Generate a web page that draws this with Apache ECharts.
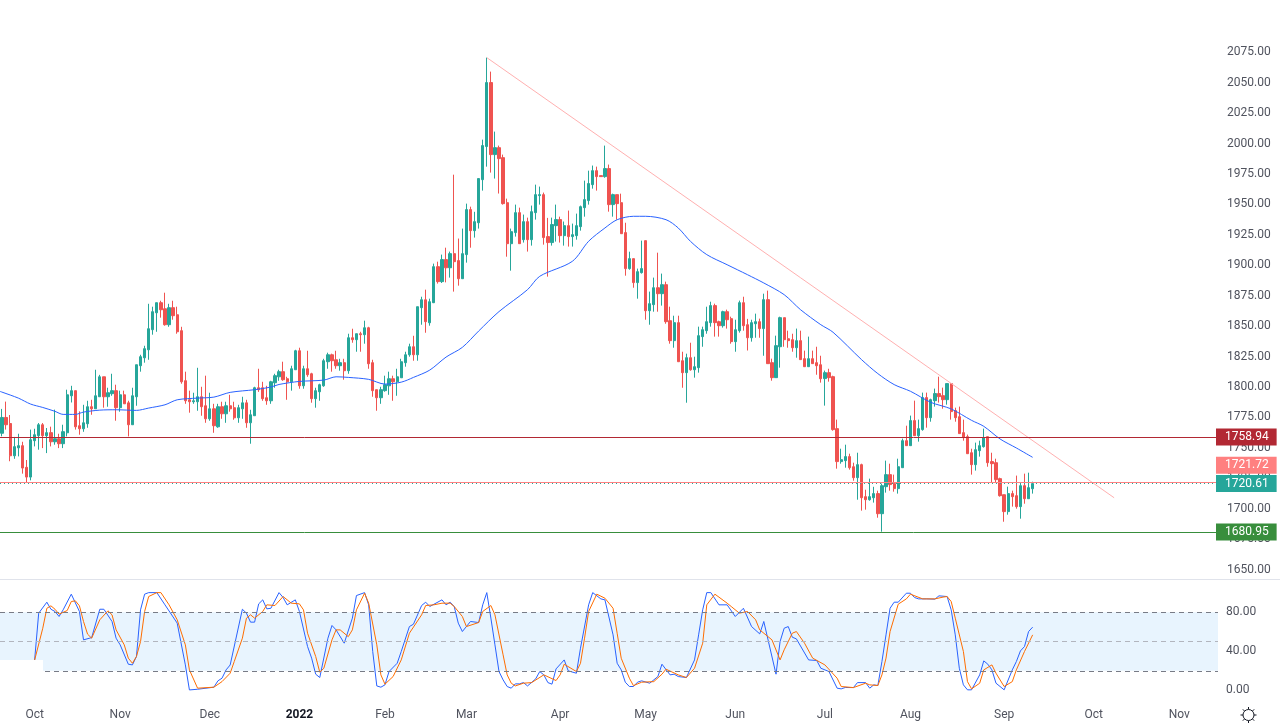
<!DOCTYPE html>
<html>
<head>
<meta charset="utf-8">
<title>Gold daily chart</title>
<script src="https://cdn.jsdelivr.net/npm/echarts@6/dist/echarts.min.js"></script>
<style>
  html, body { margin: 0; padding: 0; background: #fff; }
  #chart { width: 1280px; height: 728px; }
</style>
</head>
<body>
<div id="chart"></div>
<script>
const slotCount = 299;
const tickIndex = [8, 29, 51, 73, 94, 114, 137, 158, 180, 202, 223, 246, 268, 289];
const tickLabels = ['Oct', 'Nov', 'Dec', '2022', 'Feb', 'Mar', 'Apr', 'May', 'Jun', 'Jul', 'Aug', 'Sep', 'Oct', 'Nov'];

const priceTicks = [1650, 1675, 1700, 1725, 1750, 1775, 1800, 1825, 1850, 1875, 1900, 1925, 1950, 1975, 2000, 2025, 2050, 2075];
const stochTicks = [0, 40, 80];

const opens = [
  1762,1775,1770,1743.5,1750,1751.8,1734,1726,1755.9,1760,
  1769,1760,1762.5,1755,1757.5,1753.4,1762.4,1792.8,1797,1768.2,
  1765.7,1769.8,1783.8,1782.1,1792,1808.4,1792,1794.5,1797,1783,
  1793.6,1787,1769,1792,1817.5,1824,1830.6,1847.1,1861,1869.3,
  1864.3,1851.2,1865.2,1859.4,1846.3,1805.2,1789.5,1787.9,1787.9,1792,
  1784.6,1773.9,1782.1,1767.3,1783.8,1778,1784.6,1783,1774.7,1782.1,
  1787,1770.6,1776.4,1799.4,1799.4,1791.2,1788.7,1803.5,1808.4,1812.6,
  1806.8,1804.3,1814.2,1829.8,1801,1815,1810.9,1790.4,1796.1,1801,
  1820.8,1826.5,1822.4,1817.5,1820,1813.4,1840.5,1838.9,1843.8,1843,
  1848.7,1820,1797.8,1791.2,1797,1801,1806.8,1804.3,1807.6,1820,
  1826.5,1833.1,1826.5,1865.2,1871.7,1852.8,1869.3,1898.9,1886.6,1904.7,
  1898,1909.6,1903.9,1889,1908.8,1945.8,1928.5,1935,1970.4,1997.6,
  2050.2,1991,1996.7,1988.5,1951.5,1917.8,1926.9,1943.3,1921.1,1935.9,
  1921.1,1943.3,1957.3,1958.1,1923.6,1918.7,1932.6,1937.6,1924.4,1932.6,
  1923.6,1924.4,1931.8,1947.4,1953.2,1966.3,1977.8,1973.7,1972.9,1979.5,
  1949.9,1958.1,1951.5,1926.9,1897.3,1905.5,1885.8,1894,1920.3,1862.7,
  1867.7,1881.6,1876.7,1884.1,1854.5,1838.1,1852.9,1821.6,1811.8,1824.1,
  1814.2,1815.9,1841.4,1846.3,1852.9,1866.9,1853.7,1850.4,1861.9,1856.2,
  1837.3,1846.3,1869.3,1851.2,1840.5,1852,1853.7,1848,1871.8,1820,
  1807.7,1833.1,1857,1839.7,1838.9,1832.3,1838.1,1823.3,1816.7,1823.3,
  1820,1818.3,1806.9,1811.8,1808.5,1765.8,1738.7,1739.5,1742.8,1734.5,
  1725.5,1736.2,1709.9,1707.4,1709,1712.4,1695.9,1718.1,1728,1720.6,
  1716.5,1733.7,1755.9,1751.8,1772.4,1760,1765,1791.3,1774.8,1788.8,
  1794.6,1792.9,1789.6,1802.8,1780.6,1775.6,1762.5,1759.2,1746,1736.2,
  1747.7,1751,1759.2,1738.7,1737.8,1724.7,1711.5,1697.6,1712.4,1710.7,
  1701.7,1718.9,1708.2,1716.4
];
const closes = [
  1775,1769,1743.5,1751,1751.8,1733.4,1726,1756.7,1760.8,1769,
  1760,1762.5,1755,1757.5,1753.4,1763.3,1793.6,1797,1767.3,1765.7,
  1770.6,1783.8,1782.1,1792.8,1808.4,1792,1795.3,1797,1783,1793.6,
  1786.2,1769,1792.8,1818.3,1824.9,1831.5,1847.9,1861.9,1869.3,1863.5,
  1851.2,1865.2,1858.6,1845.4,1804.3,1788.7,1787.9,1788.7,1792,1783.8,
  1773.9,1782.1,1768.2,1783.8,1778,1784.6,1782.1,1774.7,1783,1787,
  1770.6,1777.2,1799.4,1797.8,1790.4,1788.7,1804.3,1809.3,1812.6,1806,
  1804.3,1815,1829.8,1801,1815,1810.1,1790.4,1797,1801.9,1821.6,
  1826.5,1821.6,1817.5,1820,1813.4,1840.5,1838.9,1843.8,1843,1848.7,
  1819.1,1797,1791.2,1797.8,1801.9,1806.8,1804.3,1808.4,1820.8,1826.5,
  1833.1,1826.5,1866,1871.7,1853.7,1870.1,1898.9,1886.6,1904.7,1898,
  1909.6,1903,1889,1909.6,1945.8,1928.5,1935.9,1971.3,1998.4,2050.2,
  1991,1996.7,1987.7,1950.7,1917.8,1927.7,1943.3,1917.8,1935.9,1921.1,
  1944.1,1958.1,1958.1,1922.8,1918.7,1933.5,1937.6,1924.4,1932.6,1923.6,
  1925.2,1932.6,1948.2,1954,1967.2,1977.8,1972.9,1972.9,1979.5,1949.9,
  1958.1,1950.7,1926,1897.3,1905.5,1885.8,1894.8,1897.3,1862.7,1868.5,
  1881.6,1876.7,1884.1,1853.7,1838.1,1852.9,1820.8,1811.8,1824.1,1814.2,
  1816.7,1842.2,1847.1,1853.7,1866.9,1852.9,1850.4,1861.9,1855.3,1837.3,
  1847.1,1869.3,1850.4,1840.5,1852.9,1853.7,1848,1871.8,1819.2,1807.7,
  1834,1857,1838.9,1838.1,1832.3,1838.1,1822.5,1816.7,1823.3,1819.2,
  1817.5,1806.8,1811.8,1807.7,1765,1738.7,1740.3,1742.8,1733.7,1725.5,
  1736.2,1709,1707.4,1709.9,1712.4,1695.9,1718.9,1728,1719.8,1716.5,
  1734.5,1755.9,1751.8,1772.4,1760,1765.8,1791.3,1774.8,1789.6,1794.6,
  1792.1,1789.6,1802.8,1779.8,1774.8,1761.7,1758.4,1745.2,1736.2,1748.5,
  1751.8,1758.4,1737.8,1737,1723.9,1710.7,1697.6,1712.4,1709.9,1701.7,
  1718.9,1708.2,1717.3,1720.61
];
const lows = [
  1759.5,1765,1739,1741,1743,1728.8,1721.6,1723.3,1751.2,1748.5,
  1749.8,1745.7,1751.2,1752.6,1749.8,1749.8,1759.4,1787.3,1765,1760.8,
  1763.2,1766.5,1777.2,1782.1,1792,1783,1783.8,1792.8,1772.3,1779.7,
  1786.2,1759.4,1769,1784.6,1812.6,1820,1822.4,1843,1845.4,1857,
  1850.4,1849.5,1855.3,1843.8,1802.7,1786.2,1778.9,1786.2,1780.5,1776.4,
  1770.6,1772.3,1762.4,1766.5,1773.9,1770.6,1779.7,1773.1,1770.6,1773.9,
  1766.5,1753.4,1776.4,1796,1788.7,1785.4,1786.2,1799.4,1805.1,1805.1,
  1789.5,1797,1814.2,1798.6,1798.6,1808.4,1787.1,1783,1788.7,1800.2,
  1815,1812.6,1815,1813.4,1806,1810.9,1836.4,1829,1829,1835.6,
  1815,1792,1780.5,1786.2,1796.1,1793.6,1788.7,1792.8,1807.6,1816.7,
  1824.9,1821.6,1821.6,1851.2,1844.6,1850.4,1869,1885,1885.5,1886,
  1889.9,1878.4,1883.3,1889,1902.2,1914.5,1922.8,1930.2,1961.4,1981.1,
  1976.2,1971.3,1959,1949.9,1907.1,1895.6,1923.6,1917.8,1918.7,1911.3,
  1916.2,1937.6,1949.9,1917,1890.7,1916.2,1919.5,1918.7,1916.2,1915.4,
  1915.4,1921.1,1928.5,1940,1949.9,1963,1961.4,1972.9,1972,1944.1,
  1940,1937.6,1926,1891.5,1896.4,1881.6,1872.6,1893.2,1855.3,1851.2,
  1861.9,1861.9,1866.9,1852,1835.6,1832.3,1820.8,1799.4,1787.1,1813.4,
  1807.7,1811.8,1833.1,1843.8,1849.6,1841.4,1841.4,1848.8,1848,1835.6,
  1829,1844.7,1846.3,1830,1837.3,1840.5,1840.5,1825.7,1819.2,1805.2,
  1807.7,1815.9,1833.1,1832.3,1829,1824.1,1822.5,1816.7,1816.7,1819.2,
  1810.1,1803.6,1784.7,1804.4,1764.1,1732.9,1737,1733.7,1732.1,1723,
  1707.4,1698.4,1699.2,1706.6,1705,1692.6,1681.1,1713.2,1714.8,1714,
  1712.4,1733.7,1751.8,1751.8,1760,1755.1,1764.1,1766.6,1771.5,1783.9,
  1787.2,1782.2,1785.5,1773.2,1771.5,1761.7,1755.9,1745.2,1728,1731.3,
  1742.8,1750.2,1734.5,1721.4,1721.4,1709.9,1689.3,1695.1,1701.7,1700,
  1691.8,1704.1,1708.2,1712.4
];
const highs = [
  1782,1788,1777,1759,1761.6,1755,1740,1765,1765.7,1770.4,
  1770.4,1766.3,1767.4,1781.4,1761.6,1769,1797.8,1801,1797,1780,
  1785.4,1788.7,1789.5,1814.2,1810,1808.4,1799.4,1810.9,1801.9,1797,
  1797,1788.7,1799.4,1818.3,1826.5,1833.9,1868.4,1866,1869.3,1870.9,
  1877.5,1868.4,1870.9,1866,1849.5,1812.6,1797,1795.3,1815.8,1800.2,
  1809.3,1795.3,1786.2,1786.2,1787.9,1787.9,1793.6,1787.9,1785.4,1792,
  1789.5,1781.3,1800.2,1815,1804.3,1801,1805.1,1810.9,1814.2,1820.8,
  1808.4,1817.5,1830.6,1832.3,1817.5,1829.8,1811.7,1799.4,1802.7,1823.2,
  1828.2,1827.4,1829.8,1823.2,1823.2,1843.8,1847.9,1843.8,1845.4,1854.5,
  1849.5,1822.4,1797.8,1800.2,1809.3,1812.6,1809.3,1815,1823.2,1829,
  1835.6,1842.1,1866,1874.2,1880,1872.6,1901.4,1903,1908.8,1914.5,
  1911.3,1974.5,1922,1930.2,1950.7,1948.2,1944,1971.3,2003.3,2070.7,
  2059.2,2009.9,1998.4,1991,1954.8,1930.2,1949.9,1947.4,1941.7,1939.2,
  1949.1,1966.3,1964.7,1959.8,1939,1939.2,1949.9,1940,1936,1945,
  1934.3,1942.5,1949.1,1969.6,1977.8,1982,1981.1,1973.7,1998.4,1982.8,
  1958.9,1958.1,1958.9,1935,1911.2,1905.5,1897.3,1920.3,1920.3,1878.4,
  1889.9,1910.4,1893.2,1886.6,1866,1858.6,1858.6,1829,1827.4,1836.4,
  1824.9,1849.6,1849.6,1866,1870.1,1868.5,1854.5,1862.7,1863.6,1857.8,
  1855.3,1871,1874.2,1856,1855.3,1860.3,1856.2,1876.7,1879.2,1823.3,
  1842.2,1857.8,1857,1846.3,1843.8,1848,1846.3,1829.9,1841.4,1829.9,
  1833.1,1825.7,1813.5,1815,1809.3,1773.2,1749.3,1752.6,1745.2,1737.8,
  1746,1737,1715.6,1724.7,1718,1714.8,1720.6,1739.5,1737,1728,
  1741.1,1757.6,1768.2,1776.5,1788.8,1773.2,1795.4,1795.4,1790.4,1798.7,
  1808.5,1799.5,1802.8,1802.8,1783,1783.9,1773.2,1760.9,1749.3,1754.3,
  1755.9,1765.8,1759.2,1746,1741.1,1725.5,1711.5,1718.1,1714.8,1727.2,
  1721.4,1728.8,1729.6,1722.2
];

// moving average, read at the bends of the curve
const maIndex = [-0.5,0,4,7,10,13,15,18,20,24,28,33,36,40,43,48,52,56,62,66,68,73,79,82,85,90,94,98,101,105,109,113,117,122,129,132,140,144,148,151,155,158,163,166,169,173,178,183,187,192,196,201,204,211,215,219,223,228,233,238,241,245,249,253];
const maValues = [1796.4,1795.8,1790.9,1786,1783.2,1780,1777.5,1777.5,1779.4,1781,1781.3,1780.8,1782.7,1785.4,1789.5,1790.9,1791.7,1795.6,1797.8,1800,1802.1,1804.6,1805.7,1808.4,1807.9,1806.3,1802.4,1804,1807.9,1813.9,1824.6,1832.6,1846,1862,1880,1891,1903.3,1919.8,1930.7,1937.5,1940.3,1940.3,1937.5,1930.7,1919.7,1908.8,1900.5,1892.3,1885.5,1875.9,1863.6,1851.2,1845,1822.5,1811,1802,1796.5,1787.4,1782,1772.6,1767.7,1757.3,1749.9,1742.2];

const trendIndex = [119, 273];
const trendValues = [2070.7, 1709];

const kIndex = [8,9,11,12,13,14,15,17,19,20,22,24,25,27,28,29,31,32,33,34,35,36,38,40,43,45,46,48,52,53,54,55,56,59,60,61,62,63,64,65,66,68,69,70,72,73,75,76,77,78,80,81,82,84,86,87,89,90,91,92,93,94,95,97,98,100,101,103,104,105,108,109,110,111,112,113,115,117,118,119,120,121,122,123,124,125,126,127,128,129,131,132,133,134,135,136,138,139,141,142,144,145,147,148,150,151,152,153,154,155,156,157,159,161,162,164,165,166,168,170,171,172,173,174,176,178,180,182,184,186,187,190,191,192,193,194,195,198,200,201,203,205,206,207,209,210,212,213,214,215,216,217,218,219,220,222,223,224,225,227,229,230,232,233,234,235,236,237,238,240,241,242,243,244,246,248,249,250,251,252,253];
const kValues = [31.2,79,90.2,83,80.7,75.6,82.4,98.4,80.7,51.7,54,83,83,70.5,53.4,46.6,26.8,26.1,34.7,82.4,98.4,100,100,87.5,68.8,26.1,0.5,1.2,3.3,9.8,12.5,21,26,83,79,69.8,69.8,88.5,92.6,83.4,84,100,95,87.5,92.6,80.7,44.9,33,16.6,13.2,53.4,66.4,61.9,48.3,73.9,97,100,87.5,39.8,4.6,3.3,5.7,19.3,27.8,39.8,65.3,67.7,86.8,90.2,85.8,92.6,87.5,90.2,85.8,68.8,60.2,70.5,69.4,87.5,100,74,46.6,19.3,10.8,4,2.3,6.7,6.7,8,4.6,11.8,19.3,15.9,8,6.4,22,31.2,20,17.6,43.2,87.5,100,93.6,92.6,56.8,27.8,21,8.4,4,4,8.4,9.8,7.4,14.2,26.8,15.9,16.6,14.2,13.2,31.2,56.8,82.4,100,100,87.5,87.5,75.6,84,65.3,57.8,70.5,16.6,50,63.6,65.3,54.4,52.7,31.2,30.6,22.7,19.3,2.3,1.6,3,2.9,8,8,2.3,5.7,5,29.5,56.8,84,90.2,90.2,99.4,99.4,95,93.6,93.6,93.3,96.7,96,82.4,56.8,22.7,5.7,0.6,0.6,15.9,30.2,26.8,21,7.4,0.6,21,29.5,40.4,44.9,60.2,64.7];

const dIndex = [8,10,11,12,13,14,16,17,18,19,20,21,22,24,26,27,28,30,31,32,33,34,35,36,38,39,41,43,45,46,48,52,54,56,57,59,60,61,62,64,65,67,69,71,73,74,75,77,78,79,81,82,83,85,86,87,89,90,92,93,94,96,98,100,103,104,106,108,110,111,113,114,117,118,120,121,123,124,125,126,128,130,133,136,137,138,141,142,143,144,146,148,150,151,152,154,155,157,160,162,163,166,168,170,172,173,175,178,179,181,183,185,186,189,191,192,194,195,197,199,202,205,206,209,212,213,215,216,217,218,220,222,223,226,229,231,232,233,234,236,237,238,240,241,243,244,246,248,249,251,253];
const dValues = [31,63.6,84,86.5,83,78,81.7,90.9,91.6,86.5,70.5,57.5,53.4,72.2,81.4,77.3,61.9,46.6,33,27.8,34.7,50,80.7,96,100,100,87.5,72.2,46.6,21,2.3,3.3,9,17.6,29.5,53.4,73.9,77.3,73.9,80.7,87.5,86.8,96,89.2,88.5,82.4,58.5,34.7,18.6,22.7,51.7,61.9,61.9,55,61.9,82.4,99.4,89.2,46.6,15.9,6.4,14.2,31.2,58.5,77.3,86.8,87.5,89.2,89.2,85.8,75.6,65.3,69.4,80.7,86.8,77.3,36.4,15.9,7.4,4.6,7.4,8,15.9,10.1,15.9,26.8,19.3,27.8,53.4,80.7,98.4,94.3,84,58.5,32.9,12.5,4.9,8.4,9,16.6,21.7,15.9,13.2,22.7,48.3,87.5,98.4,89.2,85.8,79,80.7,72.2,61.9,51.7,31.2,41.5,58.5,60.2,48.3,33,26.1,12.5,4,2.9,7.4,5.7,5,15.9,33,60.2,88.2,93.6,98.4,93.6,93.6,95.4,96,90.9,73.9,39.8,9,1.6,7.4,21,26.1,17.6,4,9,21,39.8,56.8];

const levelResistance = 1758.94;
const levelHigh = 1721.72;
const levelLast = 1720.61;
const levelSupport = 1680.95;

const FONT = 'Roboto, "Open Sans", sans-serif';
const UP = '#26a69a';
const DOWN = '#ef5350';

const categories = [];
for (let i = 0; i < slotCount; i++) {
    const t = tickIndex.indexOf(i);
    categories.push(t >= 0 ? tickLabels[t] : '');
}

const candles = opens.map((o, i) => [o, closes[i], lows[i], highs[i]]);
const pairs = (xs, ys) => xs.map((x, i) => [x, ys[i]]);

// price tag sitting on the right end of a horizontal level
function level(value, color, lineType, tagOffset) {
    return {
        yAxis: value,
        lineStyle: { color: color, width: 1, type: lineType, opacity: 1 },
        label: {
            show: true,
            position: 'end',
            distance: 0,
            formatter: value.toFixed(2),
            color: '#fff',
            backgroundColor: color,
            fontFamily: FONT,
            fontSize: 12,
            padding: [3, 8, 2, 9],
            offset: tagOffset || [-2, 0]
        }
    };
}

const chart = echarts.init(document.getElementById('chart'), null, { renderer: 'canvas' });

const gear = [];
for (let a = 0; a < 8; a++) {
    const r = a * Math.PI / 4;
    gear.push({
        type: 'line',
        shape: { x1: Math.cos(r) * 5.5, y1: Math.sin(r) * 5.5, x2: Math.cos(r) * 8, y2: Math.sin(r) * 8 },
        style: { stroke: '#131722', lineWidth: 1 }
    });
}
gear.push({ type: 'circle', shape: { r: 5.5 }, style: { fill: '#fff', stroke: '#131722', lineWidth: 1 } });

chart.setOption({
    animation: false,
    backgroundColor: '#fff',
    textStyle: { fontFamily: FONT },
    grid: [
        { left: 0, top: 0, width: 1218, height: 578 },
        { left: 0, top: 580, width: 1218, height: 125 }
    ],
    xAxis: [
        {
            type: 'category', gridIndex: 0, data: categories,
            axisLine: { show: false }, axisTick: { show: false }, axisLabel: { show: false }, splitLine: { show: false }
        },
        {
            type: 'category', gridIndex: 1, data: categories,
            axisLine: { show: false }, axisTick: { show: false }, splitLine: { show: false },
            axisLabel: {
                show: true,
                margin: 4,
                color: '#50535e',
                fontSize: 12,
                interval: (i, v) => v !== '',
                formatter: v => v === '2022' ? '{y|2022}' : v,
                rich: { y: { fontWeight: 'bold', color: '#131722', fontSize: 12, fontFamily: FONT } }
            }
        },
        // same slots as the category axis, lets the average start at the chart edge
        { type: 'value', gridIndex: 0, show: false, position: 'top', min: -0.5, max: slotCount - 0.5, splitLine: { show: false } }
    ],
    yAxis: [
        {
            type: 'value', gridIndex: 0, position: 'right', min: 1643.05, max: 2118.05,
            axisLine: { show: false }, axisTick: { show: false }, splitLine: { show: false },
            axisLabel: {
                margin: 9, color: '#50535e', fontSize: 12,
                customValues: priceTicks,
                formatter: v => v.toFixed(2)
            }
        },
        {
            type: 'value', gridIndex: 1, position: 'right', min: -14.9, max: 112.9,
            axisLine: { show: false }, axisTick: { show: false }, splitLine: { show: false },
            axisLabel: {
                margin: 8, color: '#50535e', fontSize: 12,
                customValues: stochTicks,
                formatter: v => v.toFixed(2)
            }
        }
    ],
    series: [
        {
            type: 'candlestick',
            xAxisIndex: 0, yAxisIndex: 0,
            data: candles,
            barWidth: 2.8,
            itemStyle: { color: UP, color0: DOWN, borderColor: UP, borderColor0: DOWN, borderWidth: 1 },
            markLine: {
                silent: true,
                symbol: 'none',
                animation: false,
                data: [
                    level(levelResistance, '#b22833', 'solid'),
                    level(levelLast, UP, [1, 3]),
                    level(levelHigh, '#ff8080', 'solid', [-2, -17]),
                    level(levelSupport, '#388e3c', 'solid')
                ]
            }
        },
        {
            name: 'MA', type: 'line', xAxisIndex: 2, yAxisIndex: 0,
            data: pairs(maIndex, maValues),
            smooth: 0.3, symbol: 'none',
            lineStyle: { color: '#2962ff', width: 1 }, z: 3
        },
        {
            name: 'Trend', type: 'line', xAxisIndex: 0, yAxisIndex: 0,
            data: pairs(trendIndex, trendValues),
            symbol: 'none',
            lineStyle: { color: '#ffb0b0', width: 1 }, z: 3
        },
        {
            name: '%K', type: 'line', xAxisIndex: 1, yAxisIndex: 1,
            data: pairs(kIndex, kValues),
            symbol: 'none',
            lineStyle: { color: '#2962ff', width: 1 }, z: 4,
            markArea: {
                silent: true,
                itemStyle: { color: 'rgba(33,150,243,0.1)' },
                data: [[{ yAxis: 20 }, { yAxis: 80 }]]
            },
            markLine: {
                silent: true,
                symbol: 'none',
                animation: false,
                label: { show: false },
                data: [
                    { yAxis: 80, lineStyle: { color: '#787b86', type: [5, 4], width: 1 } },
                    { yAxis: 50, lineStyle: { color: '#b2b5be', type: [5, 4], width: 1 } },
                    { yAxis: 20, lineStyle: { color: '#787b86', type: [5, 4], width: 1 } }
                ]
            }
        },
        {
            name: '%D', type: 'line', xAxisIndex: 1, yAxisIndex: 1,
            data: pairs(dIndex, dValues),
            symbol: 'none',
            lineStyle: { color: '#ff6d00', width: 1 }, z: 4
        }
    ],
    graphic: [
        { type: 'rect', z: 0, shape: { x: 0, y: 579, width: 1280, height: 1 }, style: { fill: '#e0e3eb' } },
        { type: 'rect', z: 20, shape: { x: 0, y: 660, width: 43, height: 40 }, style: { fill: '#fff' } },
        { type: 'group', z: 20, x: 1248.5, y: 715, children: gear }
    ]
});
</script>
</body>
</html>
